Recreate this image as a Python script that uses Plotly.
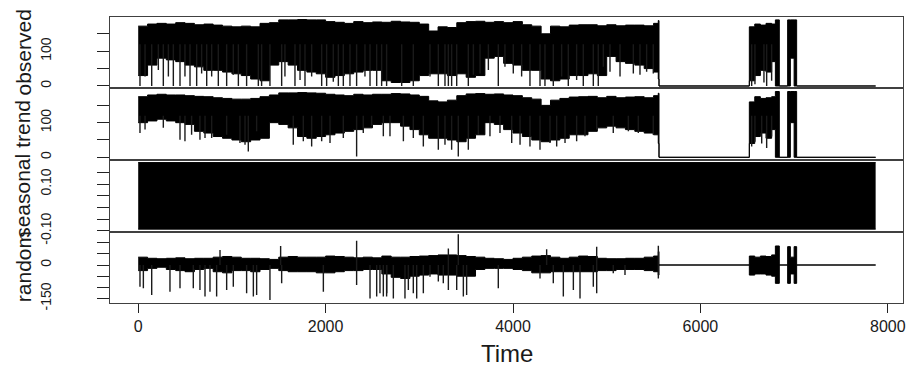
import plotly.graph_objects as go
from plotly.subplots import make_subplots

# ---------------- data ----------------
time_knots = [0, 100, 200, 300, 400, 500, 600, 700, 800, 900,
              1000, 1100, 1200, 1300, 1400, 1500, 1600, 1700, 1800, 1900,
              2000, 2100, 2200, 2300, 2400, 2500, 2600, 2700, 2800, 2900,
              3000, 3100, 3200, 3300, 3400, 3500, 3600, 3700, 3800, 3900,
              4000, 4100, 4200, 4300, 4400, 4500, 4600, 4700, 4800, 4900,
              5000, 5100, 5200, 5300, 5400, 5500, 5550,
              5558, 6522, 6580, 6640, 6700, 6760, 6800, 6842, 6931, 6960, 7000, 7027, 7870]

observed_hi = [172, 178, 180, 178, 182, 180, 176, 178, 175, 172,
               170, 172, 170, 180, 182, 190, 190, 191, 190, 190,
               185, 183, 180, 185, 182, 184, 183, 186, 184, 183,
               178, 158, 170, 168, 182, 185, 186, 183, 185, 182,
               185, 176, 172, 150, 172, 170, 175, 176, 176, 173,
               176, 173, 175, 175, 173, 180, 188,
               0, 170, 178, 175, 180, 178, 190, 0, 190, 190, 190, 0, 0]
observed_lo = [30, 60, 80, 75, 70, 60, 55, 45, 45, 40,
               35, 30, 20, 15, 60, 70, 60, 45, 40, 35,
               25, 30, 35, 40, 45, 45, 15, 10, 10, 15,
               30, 35, 35, 30, 35, 25, 30, 80, 85, 65,
               60, 45, 45, 20, 15, 20, 30, 30, 35, 30,
               85, 70, 65, 60, 50, 40, 20,
               0, 15, 30, 45, 40, 70, 0, 0, 0, 80, 0, 0, 0]
observed_spike_t = [19, 73, 144, 215, 268, 322, 375, 446, 499, 553, 624, 677, 731, 784,
                    855, 944, 1015, 1069, 1157, 1282, 1317, 1406, 1531, 1566, 1673, 1727,
                    1780, 1851, 1958, 2011, 2082, 2136, 2189, 2260, 2331, 2420, 2474, 2545,
                    2598, 2651, 2812, 2936, 3114, 3203, 3274, 3310, 3345, 3399, 3523, 3577,
                    3648, 3737, 3843, 3914, 4003, 4092, 4181, 4288, 4341, 4430, 4519, 4590,
                    4679, 4750, 4857, 4910, 4964, 5035, 5142, 5284, 5355, 5426, 5497,
                    6547, 6582, 6678, 6707, 6760]
observed_spike_v = [0, 27, 0, 46, 0, 27, 0, 0, 27, 0, 0, 36, 0, 27,
                    0, 0, 32, 0, 0, 0, 0, 0, 0, 27, 0, 17,
                    0, 27, 0, 0, 12, 0, 0, 0, 0, 27, 0, 0,
                    0, 0, 0, 0, 27, 0, 0, 0, 0, 0, 0, 32,
                    36, 46, 0, 55, 36, 27, 0, 0, 0, 0, 27, 0,
                    17, 0, 0, 0, 55, 41, 27, 36, 32, 41, 36,
                    0, 5, 10, 0, 15]

trend_hi = [175, 180, 182, 180, 180, 178, 176, 175, 172, 170,
            168, 168, 170, 175, 180, 186, 186, 187, 186, 185,
            182, 180, 178, 182, 180, 182, 182, 184, 183, 180,
            176, 163, 160, 165, 178, 183, 184, 182, 183, 180,
            178, 172, 168, 150, 165, 170, 174, 175, 176, 172,
            176, 172, 174, 175, 172, 178, 185,
            0, 160, 175, 170, 172, 175, 190, 0, 190, 190, 190, 0, 0]
trend_lo = [100, 105, 110, 105, 100, 95, 75, 70, 60, 55,
            50, 45, 50, 55, 100, 95, 85, 60, 55, 60,
            65, 70, 75, 80, 85, 95, 100, 100, 90, 80,
            65, 55, 55, 50, 45, 55, 65, 100, 95, 80,
            70, 60, 50, 45, 50, 55, 65, 65, 75, 85,
            90, 85, 80, 75, 70, 65, 40,
            0, 40, 60, 70, 55, 80, 0, 0, 0, 100, 0, 0, 0]
trend_spike_t = [19, 73, 268, 446, 499, 570, 659, 713, 784, 944, 1086, 1140, 1175, 1264,
                 1655, 1762, 1851, 1958, 2047, 2189, 2331, 2402, 2491, 2616,
                 2687, 2830, 2936, 3043, 3203, 3274, 3345, 3416, 3523, 3630, 3754, 3861,
                 3986, 4075, 4181, 4288, 4395, 4466, 4555, 4679, 4768, 4893, 5070, 5231,
                 5337, 5497, 6547, 6582, 6654, 6707, 6760]
trend_spike_v = [70, 80, 85, 51, 46, 65, 51, 56, 56, 65, 41, 36, 17, 75,
                 36, 46, 31, 46, 41, 56, 2, 70, 90, 61,
                 61, 46, 56, 31, 22, 36, 22, 2, 22, 65, 61, 70,
                 41, 36, 31, 22, 41, 31, 41, 46, 61, 80, 70, 75,
                 70, 65, 31, 45, 40, 27, 60]

seasonal_t = [0, 7870]
seasonal_hi = [0.192, 0.192]
seasonal_lo = [-0.093, -0.093]

random_hi = [35, 30, 28, 30, 32, 28, 30, 30, 35, 38,
             35, 30, 30, 28, 25, 35, 38, 35, 35, 35,
             40, 38, 35, 32, 35, 32, 40, 35, 35, 38,
             40, 42, 45, 45, 42, 38, 35, 30, 28, 25,
             30, 35, 40, 42, 35, 30, 35, 40, 38, 30,
             28, 28, 30, 30, 35, 40, 60,
             0, 40, 35, 40, 38, 45, 85, 0, 82, 35, 82, 0, 0]
random_lo = [-25, -15, -10, -20, -25, -30, -20, -15, -30, -35,
             -25, -25, -30, -20, -15, -25, -30, -30, -30, -35,
             -35, -30, -25, -25, -20, -20, -40, -55, -60, -50,
             -45, -40, -45, -45, -50, -50, -20, -15, -15, -15,
             -20, -25, -35, -35, -30, -30, -30, -30, -30, -25,
             -25, -20, -20, -20, -25, -30, -45,
             0, -45, -40, -40, -45, -50, -82, 0, -82, -40, -82, 0, 0]
random_spike_t = [19, 55, 144, 339, 446, 588, 659, 713, 766, 837, 944, 1015, 1157, 1229,
                  1264, 1406, 1531, 1976, 2331, 2474, 2545, 2580, 2651,
                  2616, 2652, 2723, 2847, 2883, 2936, 2972, 3043, 3114, 3203, 3256, 3310,
                  3399, 3470, 3505, 3843, 4288, 4430, 4537, 4644, 4715, 4857, 4893, 5070,
                  5195, 5551,
                  873, 1520, 2331, 3310, 3416, 4359, 4893, 5551]
random_spike_v = [-97, -104, -134, -119, -104, -104, -112, -141, -119, -141, -112, -97, -126, -141,
                  -134, -156, -82, -119, -89, -149, -141, -126, -141,
                  -141, -126, -149, -149, -112, -126, -149, -126, -52, -74, -82, -112,
                  -112, -141, -134, -104, -60, -82, -141, -112, -149, -97, -126, -37,
                  -45, -60,
                  67, 85, 108, 74, 137, 70, 82, 86]

x_ticks = [0, 2000, 4000, 6000, 8000]
panel_names = ["observed", "trend", "seasonal", "random"]
observed_ticks = [0, 50, 100, 150]
observed_ticklabels = ["0", "", "100", ""]
trend_ticks = [0, 50, 100, 150]
trend_ticklabels = ["0", "", "100", ""]
seasonal_ticks = [-0.10, -0.05, 0.0, 0.05, 0.10, 0.15]
seasonal_ticklabels = ["-0.10", "", "", "", "0.10", ""]
random_ticks = [-150, -100, -50, 0, 50, 100]
random_ticklabels = ["-150", "", "", "0", "", ""]

# ---------------- figure ----------------
W, H = 910, 370
FONT = "Liberation Sans, Arial, sans-serif"
INK = "#000000"
FRAME = "#404040"

fig = make_subplots(rows=4, cols=1, shared_xaxes=True, vertical_spacing=0)


def band(t, hi, lo, row):
    fig.add_trace(go.Scatter(x=t, y=lo, mode="lines",
                             line=dict(color=INK, width=1, shape="hv"),
                             hoverinfo="skip", showlegend=False), row=row, col=1)
    fig.add_trace(go.Scatter(x=t, y=hi, mode="lines", fill="tonexty",
                             fillcolor=INK, line=dict(color=INK, width=1, shape="hv"),
                             hoverinfo="skip", showlegend=False), row=row, col=1)


def spikes(t, v, base, row):
    xs, ys = [], []
    for ti, vi in zip(t, v):
        xs += [ti, ti, None]
        ys += [vi, base, None]
    fig.add_trace(go.Scatter(x=xs, y=ys, mode="lines",
                             line=dict(color="#1a1a1a", width=1.4),
                             hoverinfo="skip", showlegend=False), row=row, col=1)


band(time_knots, observed_hi, observed_lo, 1)
spikes(observed_spike_t, observed_spike_v, 120, 1)
band(time_knots, trend_hi, trend_lo, 2)
spikes(trend_spike_t, trend_spike_v, 120, 2)
band(seasonal_t, seasonal_hi, seasonal_lo, 3)
band(time_knots, random_hi, random_lo, 4)
spikes(random_spike_t, random_spike_v, 0, 4)

# panel geometry in pixels (top, bottom)
panels_px = [(17.3, 87.7), (87.7, 160.0), (160.0, 231.7), (231.7, 302.7)]
x_left, x_right = 110, 903
y_ranges = [[-4.9, 197.4], [-7.8, 201.0], [-0.104, 0.203], [-168.3, 148.7]]
tick_sets = [(observed_ticks, observed_ticklabels), (trend_ticks, trend_ticklabels),
             (seasonal_ticks, seasonal_ticklabels), (random_ticks, random_ticklabels)]

for i in range(4):
    top, bot = panels_px[i]
    xa = "xaxis" if i == 0 else f"xaxis{i + 1}"
    ya = "yaxis" if i == 0 else f"yaxis{i + 1}"
    fig.layout[xa].update(domain=[x_left / W, x_right / W], range=[-301, 8162],
                          automargin=False,
                          showgrid=False, zeroline=False, showline=True, mirror=True,
                          linecolor=FRAME, linewidth=1,
                          showticklabels=(i == 3), ticks="outside" if i == 3 else "",
                          tickvals=x_ticks, ticklen=9, tickcolor="#222", tickwidth=1,
                          ticklabeloverflow="allow",
                          tickfont=dict(family=FONT, size=16, color="#1a1a1a"))
    tv, tt = tick_sets[i]
    fig.layout[ya].update(domain=[1 - bot / H, 1 - top / H], range=y_ranges[i],
                          automargin=False,
                          showgrid=False, zeroline=False, showline=True, mirror=True,
                          linecolor=FRAME, linewidth=1,
                          ticks="outside", ticklen=12, tickcolor="#222", tickwidth=1,
                          tickvals=tv, ticktext=tt, tickangle=-90,
                          ticklabelstandoff=40, ticklabeloverflow="allow",
                          tickfont=dict(family=FONT, size=14, color="#1a1a1a"))
    fig.add_annotation(x=23 / W, y=1 - (top + bot) / 2 / H, xref="paper", yref="paper",
                       text=panel_names[i], textangle=-90, showarrow=False,
                       font=dict(family=FONT, size=21, color="#1a1a1a"),
                       xanchor="center", yanchor="middle")

fig.add_annotation(x=(x_left + x_right) / 2 / W, y=1 - 353 / H, xref="paper", yref="paper",
                   text="Time", showarrow=False,
                   font=dict(family=FONT, size=24, color="#1a1a1a"),
                   xanchor="center", yanchor="middle")

fig.update_layout(width=W, height=H, margin=dict(l=0, r=0, t=0, b=0),
                  paper_bgcolor="white", plot_bgcolor="white", showlegend=False)

fig.write_html("out.html", config={"displayModeBar": False, "staticPlot": True},
               post_script="document.body.style.margin='0';document.body.style.overflow='hidden';")
